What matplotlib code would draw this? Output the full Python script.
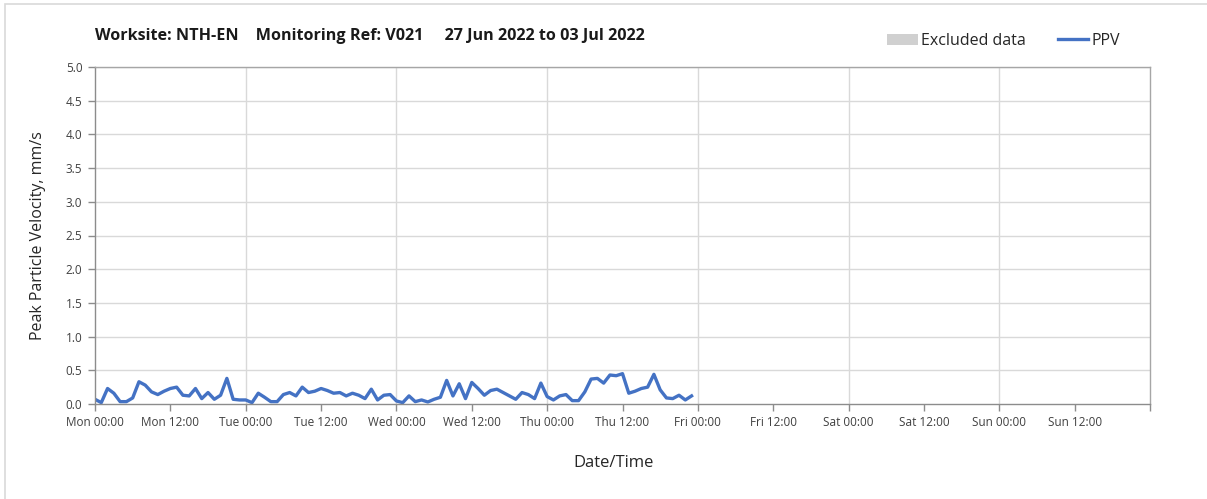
import matplotlib
matplotlib.use("Agg")
import matplotlib.pyplot as plt
from matplotlib.patches import Patch, Rectangle
from matplotlib.lines import Line2D

plt.rcParams['font.family'] = ['Open Sans', 'DejaVu Sans']

# hourly PPV readings from Mon 00:00 (hours)
hours = list(range(96))
ppv = [0.07, 0.02, 0.23, 0.16, 0.035, 0.035, 0.09, 0.33, 0.28, 0.18, 0.14, 0.19,
       0.23, 0.25, 0.13, 0.12, 0.23, 0.08, 0.17, 0.07, 0.13, 0.38, 0.07, 0.06,
       0.06, 0.02, 0.16, 0.10, 0.035, 0.035, 0.14, 0.17, 0.12, 0.25, 0.17, 0.19,
       0.23, 0.20, 0.16, 0.17, 0.12, 0.16, 0.13, 0.08, 0.22, 0.06, 0.13, 0.14,
       0.045, 0.02, 0.12, 0.035, 0.06, 0.03, 0.07, 0.10, 0.35, 0.12, 0.30, 0.08,
       0.32, 0.23, 0.13, 0.20, 0.22, 0.17, 0.12, 0.07, 0.17, 0.14, 0.08, 0.31,
       0.11, 0.06, 0.12, 0.14, 0.05, 0.05, 0.18, 0.37, 0.38, 0.31, 0.43, 0.42,
       0.45, 0.16, 0.19, 0.23, 0.25, 0.44, 0.21, 0.09, 0.08, 0.13, 0.06, 0.12]

tick_hours = [0, 12, 24, 36, 48, 60, 72, 84, 96, 108, 120, 132, 144, 156]
tick_labels = ["Mon 00:00", "Mon 12:00", "Tue 00:00", "Tue 12:00", "Wed 00:00",
               "Wed 12:00", "Thu 00:00", "Thu 12:00", "Fri 00:00", "Fri 12:00",
               "Sat 00:00", "Sat 12:00", "Sun 00:00", "Sun 12:00"]
y_ticks = [0.0, 0.5, 1.0, 1.5, 2.0, 2.5, 3.0, 3.5, 4.0, 4.5, 5.0]

title = "Worksite: NTH-EN    Monitoring Ref: V021     27 Jun 2022 to 03 Jul 2022"

W, H = 1207, 499
fig = plt.figure(figsize=(W / 100, H / 100), dpi=100)
ax = fig.add_axes([95 / W, 1 - 404 / H, (1150 - 95) / W, (404 - 67) / H])

# figure border (light grey)
fig.patches.append(Rectangle((5 / W, -0.05), 1.2, 1 - 4 / H + 0.05,
                             transform=fig.transFigure, fill=False,
                             edgecolor="#d9d9d9", linewidth=1.2))

ax.plot(hours, ppv, color="#4472C4", linewidth=2.4, solid_joinstyle="round")

ax.set_xlim(0, 168)
ax.set_ylim(0, 5.0)
ax.set_yticks(y_ticks)
ax.set_yticklabels([f"{v:.1f}" for v in y_ticks])
ax.set_xticks(tick_hours + [168])
ax.set_xticklabels(tick_labels + [""])

# grid: horizontal at each tick, vertical at day boundaries
for y in y_ticks[1:]:
    ax.axhline(y, color="#d9d9d9", linewidth=1.0, zorder=0)
for xd in range(24, 168, 24):
    ax.axvline(xd, color="#d9d9d9", linewidth=1.0, zorder=0)

for s in ["left", "bottom"]:
    ax.spines[s].set_color("#8c8c8c")
    ax.spines[s].set_linewidth(1.0)
for s in ["top", "right"]:
    ax.spines[s].set_color("#a6a6a6")
    ax.spines[s].set_linewidth(1.0)

ax.tick_params(axis="both", colors="#8c8c8c", labelcolor="#404040",
               labelsize=8.5, length=5, width=1.0)
ax.tick_params(axis="x", pad=4)
ax.tick_params(axis="y", pad=4)

ax.set_ylabel("Peak Particle Velocity, mm/s", fontsize=11.5, color="#262626", labelpad=14)
fig.text(614 / W, 1 - 463 / H, "Date/Time", fontsize=12, color="#262626",
         ha="center", va="center")

fig.text(95 / W, 1 - 36 / H, title, fontsize=11.6, fontweight="bold",
         color="#1a1a1a", ha="left", va="center")

handles = [Patch(facecolor="#d0d0d0", edgecolor="none", label="Excluded data"),
           Line2D([0], [0], color="#4472C4", linewidth=2.4, label="PPV")]
fig.legend(handles=handles, loc="center left", bbox_to_anchor=(873 / W, 1 - 41 / H),
           ncol=2, frameon=False, fontsize=11.5, handlelength=1.9, handletextpad=0.2,
           columnspacing=2.0, labelcolor="#262626")

fig.savefig("out.png", dpi=100)
